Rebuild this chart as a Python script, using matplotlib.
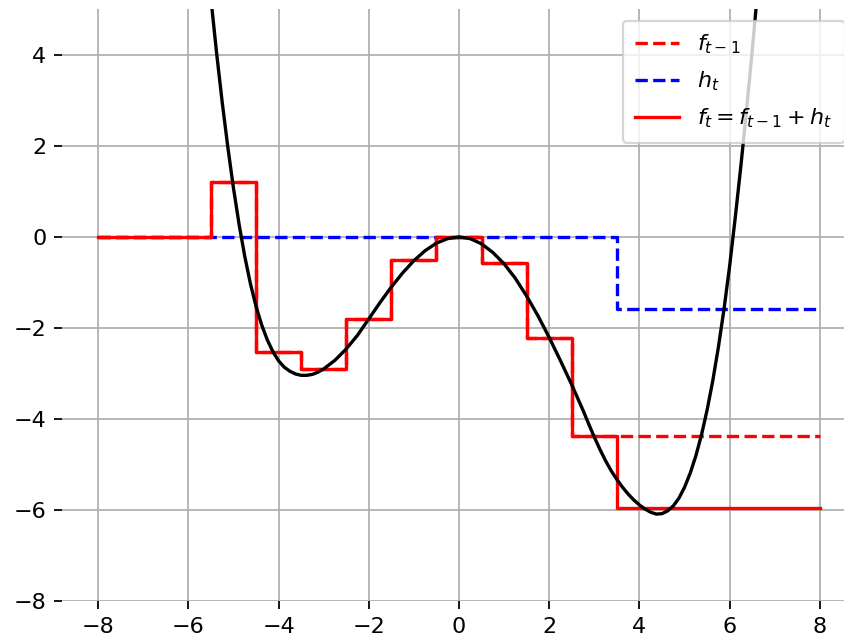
import numpy as np
import matplotlib
matplotlib.use("Agg")
import matplotlib.pyplot as plt

# Target curve (finer spacing where it bends hard)
curve_x = [-5.625, -5.5, -5.375, -5.25, -5.125, -5.0, -4.875, -4.75, -4.625, -4.5,
           -4.375, -4.25, -4.125, -4.0, -3.875, -3.75, -3.625, -3.5, -3.375, -3.25,
           -3.125, -3.0, -2.75, -2.5, -2.25, -2.0, -1.75, -1.5, -1.25, -1.0, -0.75,
           -0.5, -0.25, 0.0, 0.25, 0.5, 0.75, 1.0, 1.25, 1.5, 1.75, 2.0, 2.25, 2.5,
           2.75, 2.875, 3.0, 3.125, 3.25, 3.375, 3.5, 3.625, 3.75, 3.875, 4.0, 4.125,
           4.25, 4.375, 4.5, 4.625, 4.75, 4.875, 5.0, 5.125, 5.25, 5.375, 5.5, 5.625,
           5.75, 5.875, 6.0, 6.125, 6.25, 6.375, 6.5, 6.625, 6.75]
curve_y = [6.55, 5.25, 4.06, 2.97, 1.98, 1.08, 0.28, -0.42, -1.02, -1.52,
           -1.93, -2.26, -2.52, -2.72, -2.86, -2.95, -3.01, -3.04, -3.04, -3.02,
           -2.97, -2.9, -2.71, -2.46, -2.16, -1.8, -1.44, -1.1, -0.79, -0.52, -0.3,
           -0.135, -0.035, 0.0, -0.037, -0.15, -0.34, -0.59, -0.91, -1.3, -1.73, -2.21,
           -2.72, -3.25, -3.81, -4.11, -4.4, -4.67, -4.92, -5.14, -5.33, -5.5, -5.65,
           -5.78, -5.89, -5.98, -6.05, -6.09, -6.08, -6.02, -5.91, -5.74, -5.5, -5.19,
           -4.81, -4.35, -3.8, -3.16, -2.42, -1.58, -0.63, 0.44, 1.58, 2.8, 4.1, 5.47,
           6.92]

# Piecewise-constant models (one value per interval between edges)
edges = [-8, -5.5, -4.5, -3.5, -2.5, -1.5, -0.5, 0.5, 1.5, 2.5, 3.5, 8]
f_prev = [0, 1.2, -2.53, -2.91, -1.8, -0.51, 0, -0.57, -2.22, -4.38, -4.38]
h_t = [0, 0, 0, 0, 0, 0, 0, 0, 0, 0, -1.58]
f_t = [0, 1.2, -2.53, -2.91, -1.8, -0.51, 0, -0.57, -2.22, -4.38, -5.96]

fig = plt.figure(figsize=(844 / 160, 641 / 160), dpi=160)
# axes runs a little past the right edge of the picture, as in the original crop
ax = fig.add_axes([62 / 844, 40 / 641, 794 / 844, 591.5 / 641])

ax.step(edges, f_prev + [f_prev[-1]], where="post", color="r", ls="--", label="$f_{t-1}$")
ax.step(edges, h_t + [h_t[-1]], where="post", color="b", ls="--", label="$h_t$")
ax.step(edges, f_t + [f_t[-1]], where="post", color="r", label="$f_t = f_{t-1} + h_t$")
ax.plot(curve_x, curve_y, color="k")

ax.set_xlim(-8.8, 8.8)
ax.set_ylim(-8, 5)
ax.set_xticks(np.arange(-8, 9, 2))
ax.set_yticks(np.arange(-8, 5, 2))
ax.grid(True)
ax.set_frame_on(False)
ax.legend(loc="upper right", labelspacing=0.6, borderpad=0.55)

fig.savefig("out.png", dpi=160)
